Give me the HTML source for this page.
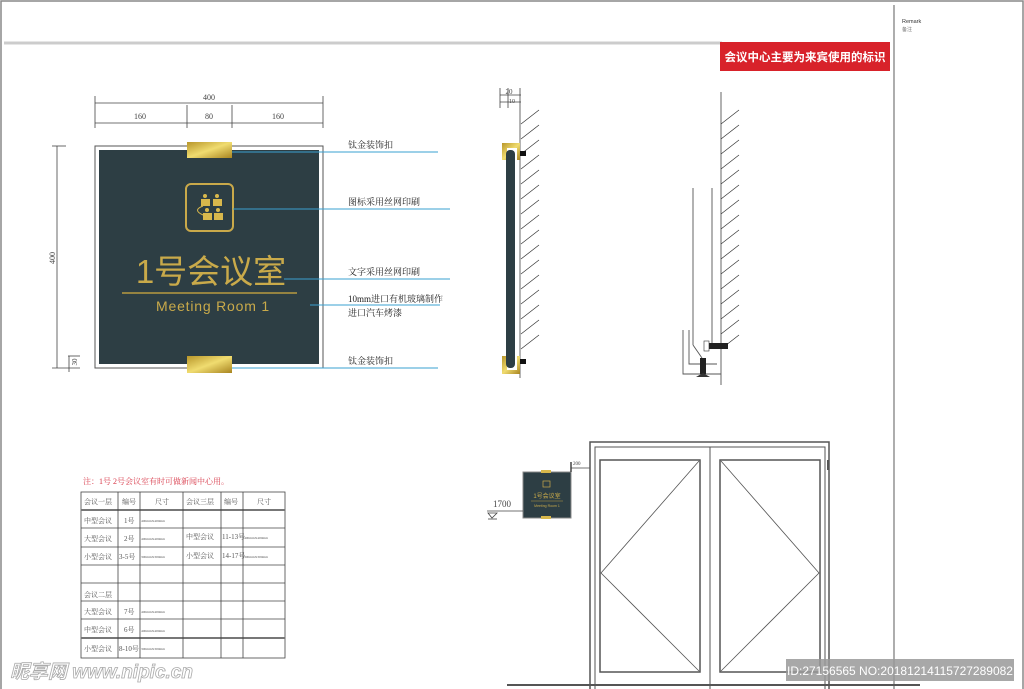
<!DOCTYPE html>
<html><head><meta charset="utf-8"><style>
html,body{margin:0;padding:0;background:#fff;}
svg{display:block;}
text{font-family:"Liberation Serif","Noto Serif CJK SC",serif;}
.s{font-family:"Liberation Sans","Noto Sans CJK SC",sans-serif;}
</style></head><body>
<svg width="1024" height="689" viewBox="0 0 1024 689" xmlns="http://www.w3.org/2000/svg">
<defs>
<linearGradient id="g" x1="0" y1="0" x2="1" y2="1">
<stop offset="0" stop-color="#b8962a"/><stop offset="0.5" stop-color="#f0dc70"/><stop offset="1" stop-color="#a88420"/>
</linearGradient>
</defs>
<rect x="1" y="1" width="1022" height="690" fill="none" stroke="#888" stroke-width="1.5"/>
<line x1="894" y1="5" x2="894" y2="689" stroke="#777" stroke-width="1.2"/>
<line x1="4" y1="43" x2="722" y2="43" stroke="#ccc" stroke-width="3"/>
<rect x="720" y="42" width="170" height="29" fill="#d8222a"/>
<text x="805" y="61" class="s" font-size="11.5" fill="#fff" text-anchor="middle" font-weight="bold">会议中心主要为来宾使用的标识</text>
<text x="902" y="23" class="s" font-size="5.5" fill="#333">Remark</text>
<text x="902" y="31" class="s" font-size="5" fill="#777">备注</text>

<g stroke="#444" stroke-width="0.8" fill="none">
<line x1="95" y1="103" x2="323" y2="103"/><line x1="95" y1="123" x2="323" y2="123"/>
<line x1="95" y1="96" x2="95" y2="128"/><line x1="323" y1="96" x2="323" y2="128"/>
<line x1="187" y1="105" x2="187" y2="128"/><line x1="232" y1="105" x2="232" y2="128"/>
<line x1="57" y1="146" x2="57" y2="368"/><line x1="52" y1="146" x2="66" y2="146"/><line x1="52" y1="368" x2="80" y2="368"/>
<line x1="68" y1="356" x2="80" y2="356"/><line x1="69" y1="356" x2="69" y2="372"/>
</g>
<g font-size="8" fill="#444" text-anchor="middle">
<text x="209" y="100">400</text><text x="140" y="119">160</text><text x="209" y="119">80</text><text x="278" y="119">160</text>
<text x="55" y="258" transform="rotate(-90 55 258)">400</text>
<text x="77" y="362" font-size="7" transform="rotate(-90 77 362)">30</text>
</g>

<rect x="95" y="146" width="228" height="222" fill="#fff" stroke="#555" stroke-width="1"/>
<rect x="99" y="150" width="220" height="214" fill="#2d3e44"/>
<rect x="187" y="142" width="45" height="16" fill="url(#g)"/>
<rect x="187" y="356" width="45" height="17" fill="url(#g)"/>
<rect x="186" y="184" width="47" height="47" rx="5" fill="none" stroke="#c9a94a" stroke-width="2"/>
<g fill="#d8b84c">
<rect x="201" y="199" width="9" height="7"/><rect x="213" y="199" width="9" height="7"/>
<rect x="203" y="213" width="9" height="7"/><rect x="214" y="213" width="9" height="7"/>
<circle cx="205" cy="196" r="2"/><circle cx="217" cy="196" r="2"/><circle cx="207" cy="210" r="2"/><circle cx="218" cy="210" r="2"/>
</g>
<path d="M203 206 Q192 210 203 215" fill="none" stroke="#d8b84c" stroke-width="1"/>
<text x="211" y="283" class="s" font-size="33" fill="#c9aa4a" text-anchor="middle">1号会议室</text>
<line x1="122" y1="293" x2="297" y2="293" stroke="#b89a40" stroke-width="1.5"/>
<text x="213" y="311" class="s" font-size="14" fill="#c9aa4a" text-anchor="middle" letter-spacing="0.8">Meeting Room 1</text>

<g stroke="#3aa0d0" stroke-width="1">
<line x1="232" y1="152" x2="438" y2="152"/>
<line x1="233" y1="209" x2="450" y2="209"/>
<line x1="284" y1="279" x2="450" y2="279"/>
<line x1="310" y1="305" x2="440" y2="305"/>
<line x1="232" y1="368" x2="438" y2="368"/>
</g>
<g font-size="9" fill="#222">
<text x="348" y="148">钛金装饰扣</text>
<text x="348" y="205">图标采用丝网印刷</text>
<text x="348" y="275">文字采用丝网印刷</text>
<text x="348" y="302">10mm进口有机玻璃制作</text>
<text x="348" y="316">进口汽车烤漆</text>
<text x="348" y="364">钛金装饰扣</text>
</g>

<g stroke="#444" stroke-width="0.8" fill="none">
<line x1="520" y1="88" x2="520" y2="378"/>
<line x1="500" y1="88" x2="500" y2="108"/><line x1="508" y1="88" x2="508" y2="108"/>
<line x1="500" y1="95" x2="521" y2="95"/><line x1="500" y1="102" x2="521" y2="102"/>
</g>
<text x="509" y="94" font-size="7" fill="#444" text-anchor="middle">20</text>
<text x="512" y="103" font-size="6" fill="#444" text-anchor="middle">10</text>
<g stroke="#333" stroke-width="0.7" id="h1">
<line x1="521" y1="124" x2="539" y2="110"/><line x1="521" y1="139" x2="539" y2="125"/><line x1="521" y1="154" x2="539" y2="140"/>
<line x1="521" y1="169" x2="539" y2="155"/><line x1="521" y1="184" x2="539" y2="170"/><line x1="521" y1="199" x2="539" y2="185"/>
<line x1="521" y1="214" x2="539" y2="200"/><line x1="521" y1="229" x2="539" y2="215"/><line x1="521" y1="244" x2="539" y2="230"/>
<line x1="521" y1="259" x2="539" y2="245"/><line x1="521" y1="274" x2="539" y2="260"/><line x1="521" y1="289" x2="539" y2="275"/>
<line x1="521" y1="304" x2="539" y2="290"/><line x1="521" y1="319" x2="539" y2="305"/><line x1="521" y1="334" x2="539" y2="320"/>
<line x1="521" y1="349" x2="539" y2="335"/>
</g>
<rect x="502" y="143" width="18" height="17" fill="url(#g)"/>
<rect x="502" y="356" width="18" height="18" fill="url(#g)"/>
<rect x="507" y="148" width="10" height="222" fill="#fff"/>
<rect x="506" y="150" width="9" height="218" rx="4" fill="#2d3e44"/>
<rect x="520" y="151" width="6" height="5" fill="#111"/><rect x="520" y="359" width="6" height="5" fill="#111"/>

<g stroke="#555" stroke-width="0.9" fill="none">
<line x1="721" y1="92" x2="721" y2="385"/>
<line x1="693" y1="188" x2="693" y2="345"/><line x1="712" y1="188" x2="712" y2="345"/>
<path d="M683 330 V374 H721"/><path d="M689 330 V364 H717"/><line x1="693" y1="345" x2="702" y2="358"/>
</g>
<g transform="translate(200,0)"><use href="#h1"/></g>
<rect x="708" y="343" width="20" height="6" fill="#222"/><rect x="704" y="341" width="5" height="10" fill="#fff" stroke="#333" stroke-width="0.6"/>
<rect x="700" y="358" width="6" height="16" fill="#222"/><path d="M696 377 H710 L703 373Z" fill="#333"/>

<text x="83" y="484" font-size="8" fill="#d83a4a">注：1号 2号会议室有时可做新闻中心用。</text>
<g stroke="#444" stroke-width="0.8" fill="none">
<rect x="81" y="492" width="204" height="166"/>
<line x1="81" y1="510" x2="285" y2="510" stroke-width="2" stroke="#777"/>
<line x1="81" y1="528" x2="285" y2="528"/><line x1="81" y1="547" x2="285" y2="547"/>
<line x1="81" y1="565" x2="285" y2="565"/><line x1="81" y1="583" x2="285" y2="583"/>
<line x1="81" y1="601" x2="285" y2="601"/><line x1="81" y1="619" x2="285" y2="619"/>
<line x1="81" y1="638" x2="285" y2="638" stroke-width="2" stroke="#777"/>
<line x1="118" y1="492" x2="118" y2="658"/><line x1="140" y1="492" x2="140" y2="658"/>
<line x1="183" y1="492" x2="183" y2="658"/><line x1="221" y1="492" x2="221" y2="658"/><line x1="243" y1="492" x2="243" y2="658"/>
</g>
<g font-size="7" fill="#555">
<text x="84" y="504">会议一层</text><text x="122" y="504">编号</text><text x="155" y="504">尺寸</text>
<text x="186" y="504">会议三层</text><text x="224" y="504">编号</text><text x="257" y="504">尺寸</text>
<text x="84" y="523">中型会议</text><text x="124" y="523">1号</text>
<text x="84" y="541">大型会议</text><text x="124" y="541">2号</text>
<text x="84" y="559">小型会议</text><text x="119" y="559">3-5号</text>
<text x="186" y="539">中型会议</text><text x="222" y="539">11-13号</text>
<text x="186" y="558">小型会议</text><text x="222" y="558">14-17号</text>
<text x="84" y="597">会议二层</text>
<text x="84" y="614">大型会议</text><text x="124" y="614">7号</text>
<text x="84" y="632">中型会议</text><text x="124" y="632">6号</text>
<text x="84" y="651">小型会议</text><text x="119" y="651">8-10号</text>
</g>
<g font-size="3.5" fill="#555" class="s">
<text x="141" y="522">400mmX400mm</text><text x="141" y="540">400mmX400mm</text><text x="141" y="558">300mmX300mm</text>
<text x="244" y="539">400mmX400mm</text><text x="244" y="558">300mmX300mm</text>
<text x="141" y="613">400mmX400mm</text><text x="141" y="632">400mmX400mm</text><text x="141" y="650">300mmX300mm</text>
</g>
<text x="10" y="678" class="s" font-size="19" font-style="italic" font-weight="bold" fill="#fff" stroke="#aaa" stroke-width="0.8">昵享网 www.nipic.cn</text>

<rect x="523" y="472" width="48" height="46" fill="#2d3e44" stroke="#888" stroke-width="1"/>
<rect x="541" y="470" width="10" height="3" fill="#d8b84c"/><rect x="541" y="516" width="10" height="3" fill="#d8b84c"/>
<rect x="543" y="481" width="7" height="6" fill="none" stroke="#c9a94a" stroke-width="0.7"/>
<text x="547" y="498" class="s" font-size="6" fill="#c9aa4a" text-anchor="middle">1号会议室</text>
<line x1="531" y1="501" x2="563" y2="501" stroke="#b89a40" stroke-width="0.5"/>
<text x="547" y="507" class="s" font-size="3.5" fill="#c9aa4a" text-anchor="middle">Meeting Room 1</text>
<g stroke="#444" stroke-width="0.8" fill="none">
<line x1="571" y1="468" x2="590" y2="468"/><line x1="571" y1="462" x2="571" y2="472" stroke-width="1.5"/>
<line x1="487" y1="511" x2="523" y2="511"/><path d="M488 513 H497 L492 518Z"/><line x1="488" y1="519" x2="497" y2="519"/>
</g>
<text x="573" y="465" font-size="5" fill="#444">200</text>
<text x="493" y="507" font-size="9" fill="#444">1700</text>
<g stroke="#555" fill="none">
<rect x="590" y="442" width="239" height="250" stroke-width="1.5"/>
<rect x="595" y="447" width="230" height="245" stroke-width="1"/>
<line x1="710" y1="447" x2="710" y2="689" stroke-width="1"/>
<rect x="600" y="460" width="100" height="212" stroke-width="1.5"/>
<rect x="720" y="460" width="100" height="212" stroke-width="1.5"/>
<line x1="828" y1="460" x2="828" y2="470" stroke-width="2"/>
<path d="M699 461 L601 573 L699 671" stroke-width="0.8"/>
<path d="M721 461 L819 573 L721 671" stroke-width="0.8"/>
</g>
<line x1="507" y1="685" x2="920" y2="685" stroke="#555" stroke-width="2"/>
<rect x="786" y="659" width="228" height="22" fill="#999" opacity="0.85"/>
<text x="900" y="675" class="s" font-size="12" fill="#fff" text-anchor="middle">ID:27156565 NO:20181214115727289082</text>
</svg>
</body></html>
